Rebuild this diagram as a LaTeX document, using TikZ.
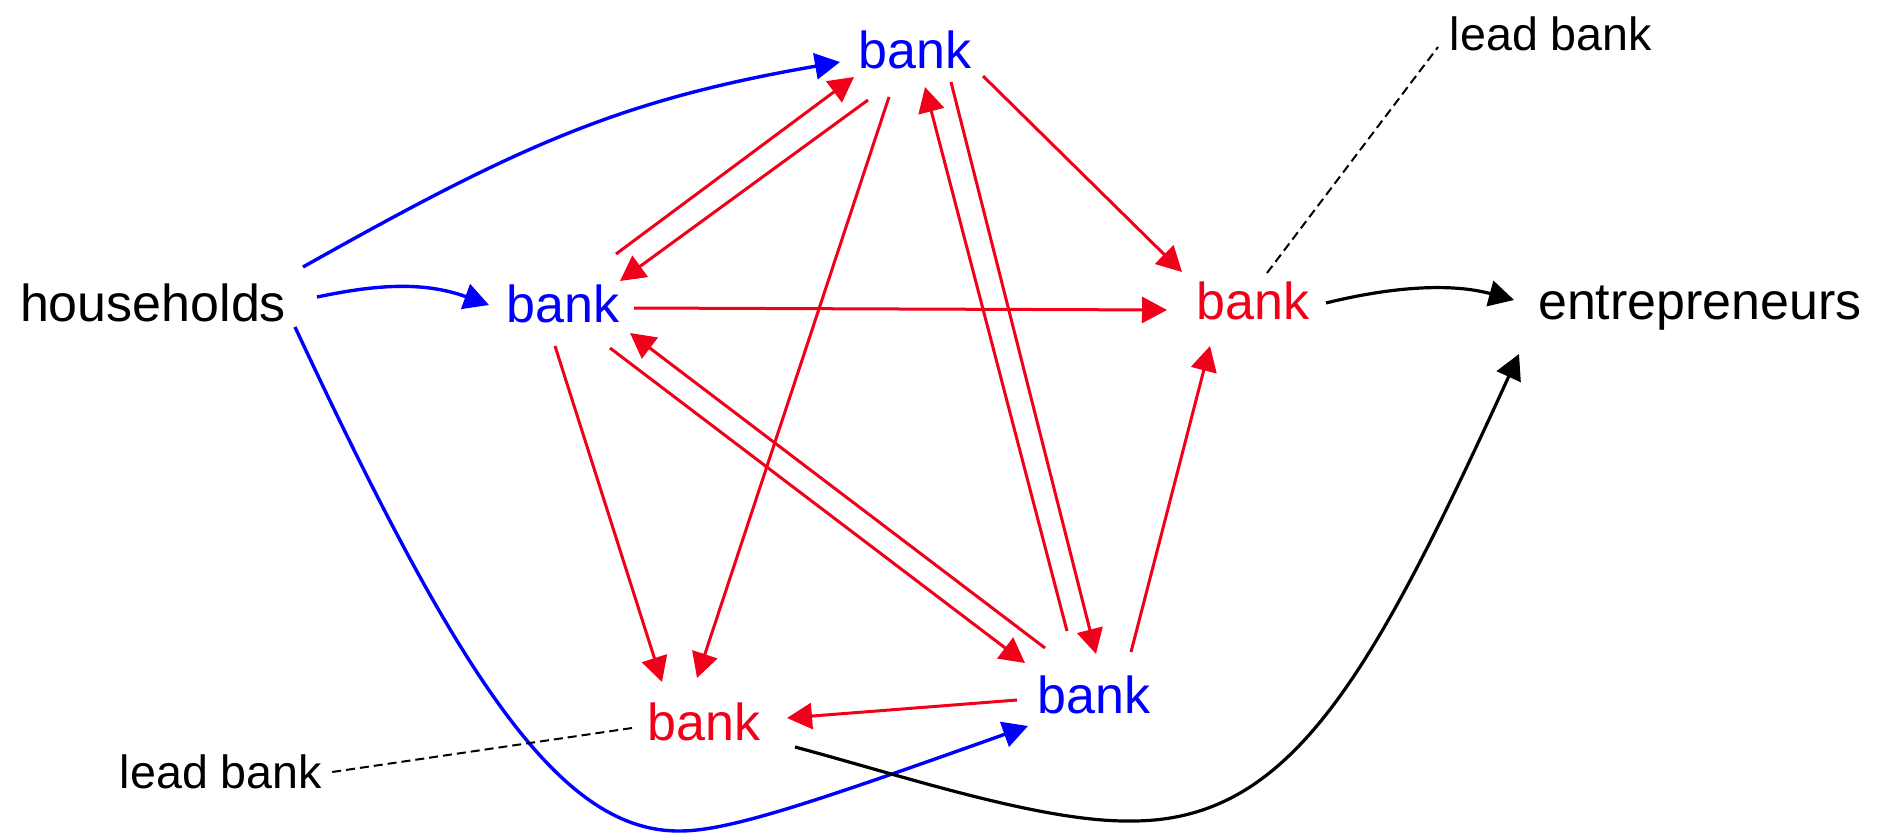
\documentclass[tikz,border=0pt]{standalone}
\usepackage{fontspec}
\setmainfont{Liberation Sans}
\usetikzlibrary{arrows.meta}
\definecolor{myred}{RGB}{240,0,25}
\definecolor{myblue}{RGB}{0,0,255}
\begin{document}
\begin{tikzpicture}[x=0.5pt,y=-0.5pt,
  lbl/.style={inner sep=0pt, anchor=base, font=\fontsize{26}{31}\selectfont},
  smalllbl/.style={inner sep=0pt, anchor=base, font=\fontsize{23.3}{28}\selectfont},
  tipped/.style={-{Triangle[length=12.5pt,width=13pt]}},
  redarr/.style={tipped, color=myred, line width=1.5pt},
  bluearr/.style={tipped, color=myblue, line width=1.7pt},
  blackarr/.style={tipped, color=black, line width=1.6pt},
  leader/.style={draw=black, line width=1pt, dash pattern=on 4.5pt off 2.5pt}]
\useasboundingbox (0,0) rectangle (1888,835);

% nodes
\node[lbl] (hh)  at (153,321) {households};
\node[lbl, text=myblue] (bL)  at (563,322) {bank};
\node[lbl, text=myblue] (bT)  at (915,68) {bank};
\node[lbl, text=myred]  (bR)  at (1253,319) {bank};
\node[lbl, text=myred]  (bBL) at (704,740) {bank};
\node[lbl, text=myblue] (bBR) at (1094,713) {bank};
\node[lbl] (ent) at (1700,319) {entrepreneurs};
\node[smalllbl] (lbT) at (1551,50) {lead bank};
\node[smalllbl] (lbB) at (221,788) {lead bank};

% blue connectors
\draw[bluearr] ([shift={(150,-54)}]hh.base) .. controls (520,145) and (620,100) .. ([shift={(-75,-6)}]bT.base);
\draw[bluearr] ([shift={(164,-24)}]hh.base) .. controls (370,286) and (420,280) .. ([shift={(-74,-17)}]bL.base);
\draw[bluearr] ([shift={(142,6)}]hh.base) .. controls (460,680) and (560,832) .. (680,831)
   .. controls (730,831) and (820,800) .. ([shift={(-66,13)}]bBR.base);

% red connectors
\draw[redarr] ([shift={(53,-68)}]bL.base) -- ([shift={(-61,9)}]bT.base);
\draw[redarr] ([shift={(-47,32)}]bT.base) -- ([shift={(57,-41)}]bL.base);
\draw[redarr] ([shift={(-26,29)}]bT.base) -- ([shift={(-7,-62)}]bBL.base);
\draw[redarr] ([shift={(68,8)}]bT.base) -- ([shift={(-71,-47)}]bR.base);
\draw[redarr] ([shift={(71,-14)}]bL.base) -- ([shift={(-86,-9)}]bR.base);
\draw[redarr] ([shift={(-8,24)}]bL.base) -- ([shift={(-42,-58)}]bBL.base);
\draw[redarr] ([shift={(47,26)}]bL.base) -- ([shift={(-69,-50)}]bBR.base);
\draw[redarr] ([shift={(-49,-65)}]bBR.base) -- ([shift={(67,11)}]bL.base);
\draw[redarr] ([shift={(-27,-82)}]bBR.base) -- ([shift={(10,19)}]bT.base);
\draw[redarr] ([shift={(36,14)}]bT.base) -- ([shift={(2,-59)}]bBR.base);
\draw[redarr] ([shift={(37,-61)}]bBR.base) -- ([shift={(-43,27)}]bR.base);
\draw[redarr] ([shift={(-77,-13)}]bBR.base) -- ([shift={(83,-22)}]bBL.base);

% black connectors
\draw[blackarr] ([shift={(73,-16)}]bR.base) .. controls (1370,292) and (1440,280) .. ([shift={(-186,-19)}]ent.base);
\draw[blackarr] ([shift={(91,7)}]bBL.base) .. controls (900,775) and (1040,822) .. (1130,821)
   .. controls (1290,822) and (1370,680) .. ([shift={(-181,35)}]ent.base);

% leaders
\draw[leader] ([shift={(14,-46)}]bR.base) -- ([shift={(-113,-3)}]lbT.base);
\draw[leader] ([shift={(-72,-12)}]bBL.base) -- ([shift={(111,-16)}]lbB.base);
\end{tikzpicture}
\end{document}
